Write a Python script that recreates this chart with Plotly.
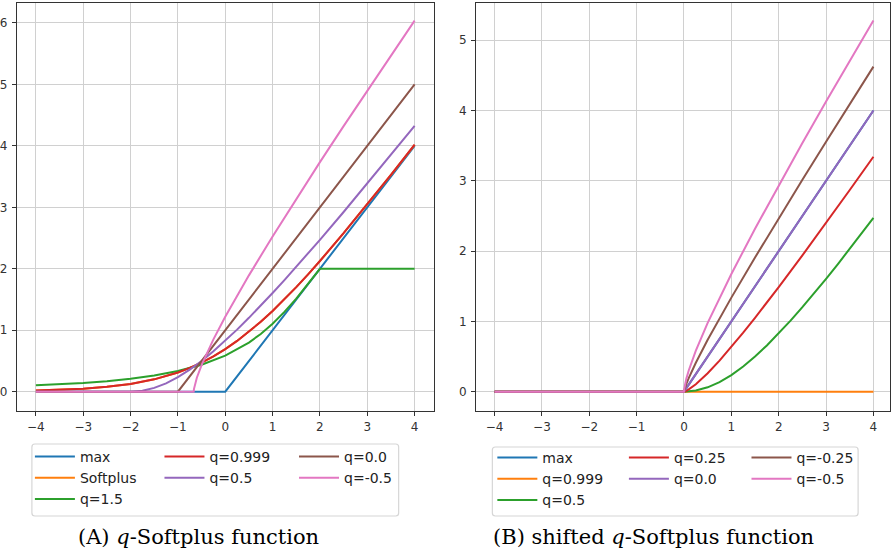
import plotly.graph_objects as go

W, H = 891, 555

# ---------------- data: panel A (q-Softplus) ----------------
a_max_x = [-4, 0, 4]
a_max_y = [0, 0, 4]

a_sp_x = [-4, -3.5, -3, -2.5, -2, -1.5, -1.25, -1, -0.75, -0.5, -0.25, 0, 0.25, 0.5, 0.75,
          1, 1.25, 1.5, 1.75, 2, 2.5, 3, 3.5, 4]
a_sp_y = [0.018, 0.030, 0.049, 0.079, 0.127, 0.201, 0.252, 0.313, 0.387, 0.474, 0.576,
          0.693, 0.826, 0.974, 1.137, 1.313, 1.502, 1.701, 1.910, 2.127, 2.579, 3.049,
          3.530, 4.018]

a_q15_x = [-4, -3.5, -3, -2.5, -2, -1.5, -1, -0.5, 0, 0.5, 0.75, 1, 1.25, 1.5, 1.75, 1.9, 2, 4]
a_q15_y = [0.103, 0.120, 0.143, 0.172, 0.211, 0.264, 0.336, 0.438, 0.586, 0.800, 0.940,
           1.106, 1.298, 1.515, 1.752, 1.900, 2.0, 2.0]

a_q0999_x = [-4, -3.5, -3, -2.5, -2, -1.5, -1.25, -1, -0.75, -0.5, -0.25, 0, 0.25, 0.5, 0.75,
             1, 1.25, 1.5, 1.75, 2, 2.5, 3, 3.5, 4]
a_q0999_y = [0.018, 0.030, 0.049, 0.079, 0.127, 0.201, 0.252, 0.313, 0.387, 0.474, 0.576,
             0.693, 0.826, 0.974, 1.137, 1.313, 1.502, 1.701, 1.910, 2.127, 2.579, 3.049,
             3.530, 4.019]

a_q05_x = [-4, -2, -1.75, -1.5, -1.25, -1, -0.75, -0.5, -0.25, 0, 0.25, 0.5, 0.75, 1, 1.25,
           1.5, 1.75, 2, 2.5, 3, 3.5, 4]
a_q05_y = [0, 0, 0.016, 0.062, 0.136, 0.236, 0.359, 0.500, 0.658, 0.828, 1.010, 1.202,
           1.400, 1.606, 1.816, 2.031, 2.250, 2.472, 2.924, 3.385, 3.852, 4.325]

a_q00_x = [-4, -1, 4]
a_q00_y = [0, 0, 5]

a_qm05_x = [-4, -0.667, -0.66, -0.65, -0.63, -0.6, -0.5, -0.4, -0.25, 0, 0.25, 0.5, 1,
            1.5, 2, 2.5, 3, 3.5, 4]
a_qm05_y = [0, 0, 0.047, 0.087, 0.150, 0.227, 0.434, 0.611, 0.852, 1.219, 1.563, 1.893,
            2.527, 3.139, 3.736, 4.322, 4.900, 5.472, 6.038]

# ---------------- data: panel B (shifted q-Softplus) ----------------
b_max_x = [-4, 0, 4]
b_max_y = [0, 0, 4]

b_q0999_x = [-4, 4]
b_q0999_y = [0, 0]

b_q05_x = [-4, 0, 0.25, 0.5, 0.75, 1, 1.25, 1.5, 1.75, 2, 2.25, 2.5, 2.75, 3, 3.25, 3.5,
           3.75, 4]
b_q05_y = [0, 0, 0.016, 0.062, 0.136, 0.236, 0.359, 0.500, 0.658, 0.828, 1.010, 1.202,
           1.400, 1.606, 1.816, 2.031, 2.250, 2.472]

b_q025_x = [-4, 0, 0.05, 0.1, 0.25, 0.5, 0.75, 1, 1.25, 1.5, 1.75, 2, 2.5, 3, 3.5, 4]
b_q025_y = [0, 0, 0.013, 0.032, 0.106, 0.262, 0.442, 0.635, 0.839, 1.051, 1.267, 1.488,
            1.940, 2.401, 2.869, 3.342]

b_q00_x = [-4, 0, 4]
b_q00_y = [0, 0, 4]

b_qm025_x = [-4, 0, 0.005, 0.02, 0.05, 0.1, 0.25, 0.5, 0.75, 1, 1.5, 2, 2.5, 3, 3.5, 4]
b_qm025_y = [0, 0, 0.017, 0.053, 0.110, 0.194, 0.412, 0.738, 1.043, 1.338, 1.909, 2.466,
             3.014, 3.555, 4.092, 4.625]

b_qm05_x = [-4, 0, 0.005, 0.02, 0.05, 0.1, 0.25, 0.5, 0.75, 1, 1.5, 2, 2.5, 3, 3.5, 4]
b_qm05_y = [0, 0, 0.039, 0.099, 0.186, 0.301, 0.583, 0.978, 1.336, 1.675, 2.319, 2.937,
            3.539, 4.128, 4.708, 5.282]

x_ticks = [-4, -3, -2, -1, 0, 1, 2, 3, 4]
x_tick_text = ["\u22124", "\u22123", "\u22122", "\u22121", "0", "1", "2", "3", "4"]
a_y_ticks = [0, 1, 2, 3, 4, 5, 6]
b_y_ticks = [0, 1, 2, 3, 4, 5]

captions = ["(A) <i>q</i>-Softplus function", "(B) shifted <i>q</i>-Softplus function"]

C = ["#1f77b4", "#ff7f0e", "#2ca02c", "#d62728", "#9467bd", "#8c564b", "#e377c2"]

# series: (name, x, y, color, legend)
panel_a = [
    ("max", a_max_x, a_max_y, C[0], "legend"),
    ("Softplus", a_sp_x, a_sp_y, C[1], "legend"),
    ("q=1.5", a_q15_x, a_q15_y, C[2], "legend"),
    ("q=0.999", a_q0999_x, a_q0999_y, C[3], "legend2"),
    ("q=0.5", a_q05_x, a_q05_y, C[4], "legend2"),
    ("q=0.0", a_q00_x, a_q00_y, C[5], "legend3"),
    ("q=-0.5", a_qm05_x, a_qm05_y, C[6], "legend3"),
]
panel_b = [
    ("max", b_max_x, b_max_y, C[0], "legend4"),
    ("q=0.999", b_q0999_x, b_q0999_y, C[1], "legend4"),
    ("q=0.5", b_q05_x, b_q05_y, C[2], "legend4"),
    ("q=0.25", b_q025_x, b_q025_y, C[3], "legend5"),
    ("q=0.0", b_q00_x, b_q00_y, C[4], "legend5"),
    ("q=-0.25", b_qm025_x, b_qm025_y, C[5], "legend6"),
    ("q=-0.5", b_qm05_x, b_qm05_y, C[6], "legend6"),
]

fig = go.Figure()
for name, xs, ys, col, lg in panel_a:
    fig.add_trace(go.Scatter(x=xs, y=ys, mode="lines", name=name, legend=lg,
                             line=dict(color=col, width=2), xaxis="x", yaxis="y"))
for name, xs, ys, col, lg in panel_b:
    fig.add_trace(go.Scatter(x=xs, y=ys, mode="lines", name=name, legend=lg,
                             line=dict(color=col, width=2), xaxis="x2", yaxis="y2"))

def px(x):
    return x / W

def py(y):
    return 1 - y / H

axis_common = dict(showgrid=True, gridcolor="#d0d0d0", gridwidth=1, zeroline=False,
                   showline=True, linecolor="#333333", linewidth=1.3, ticks="outside",
                   ticklen=4, tickwidth=1, tickcolor="#333333",
                   tickfont=dict(family="DejaVu Sans", size=12, color="#333333"))

top_px, bot_px = 3, 411
fig.update_layout(
    width=W, height=H, margin=dict(l=0, r=0, t=0, b=0),
    paper_bgcolor="white", plot_bgcolor="white",
    xaxis=dict(domain=[px(15), px(433)], range=[-4.4, 4.4], tickvals=x_ticks,
               ticktext=x_tick_text, anchor="y", mirror=True, **axis_common),
    yaxis=dict(domain=[py(bot_px), py(top_px)], range=[-0.314, 6.325], tickvals=a_y_ticks,
               anchor="x", mirror=True, ticklabelstandoff=2, **axis_common),
    xaxis2=dict(domain=[px(475.7), 1.0], range=[-4.39, 4.35], tickvals=x_ticks,
                ticktext=x_tick_text, anchor="y2", mirror=True, **axis_common),
    yaxis2=dict(domain=[py(bot_px), py(top_px)], range=[-0.275, 5.53], tickvals=b_y_ticks,
                anchor="x2", mirror=True, ticklabelstandoff=2, **axis_common),
    showlegend=True,
)

leg_common = dict(orientation="v", xanchor="left", yanchor="top", bgcolor="rgba(0,0,0,0)",
                  borderwidth=0, font=dict(family="DejaVu Sans", size=14, color="#222222"),
                  tracegroupgap=0, itemwidth=40)
leg_x = {"legend": 28, "legend2": 158, "legend3": 293,
         "legend4": 492, "legend5": 624, "legend6": 747}
for lg, xx in leg_x.items():
    y0 = 441 if lg in ("legend", "legend2", "legend3") else 442
    fig.update_layout({lg: dict(x=px(xx), y=py(y0), **leg_common)})

def rrect(x0, y0, x1, y1, r=3):
    pts = (f"M {px(x0 + r)},{py(y0)} L {px(x1 - r)},{py(y0)} "
           f"Q {px(x1)},{py(y0)} {px(x1)},{py(y0 + r)} L {px(x1)},{py(y1 - r)} "
           f"Q {px(x1)},{py(y1)} {px(x1 - r)},{py(y1)} L {px(x0 + r)},{py(y1)} "
           f"Q {px(x0)},{py(y1)} {px(x0)},{py(y1 - r)} L {px(x0)},{py(y0 + r)} "
           f"Q {px(x0)},{py(y0)} {px(x0 + r)},{py(y0)} Z")
    return pts

for (x0, y0, x1, y1) in [(30, 444, 398, 516), (492, 447, 859, 516)]:
    fig.add_shape(type="path", path=rrect(x0, y0, x1, y1), xref="paper", yref="paper",
                  line=dict(color="#d6d6d6", width=1.2), fillcolor="white", layer="below")

for txt, cx in zip(captions, [197.5, 653.5]):
    fig.add_annotation(text=txt, x=px(cx), y=py(537), xref="paper", yref="paper",
                       xanchor="center", yanchor="middle", showarrow=False,
                       font=dict(family="DejaVu Serif", size=21, color="black"))

fig.write_html("out.html", config={"displayModeBar": False},
               post_script="document.body.style.margin='0';document.body.style.padding='0';"
                           "document.body.style.overflow='hidden';")
